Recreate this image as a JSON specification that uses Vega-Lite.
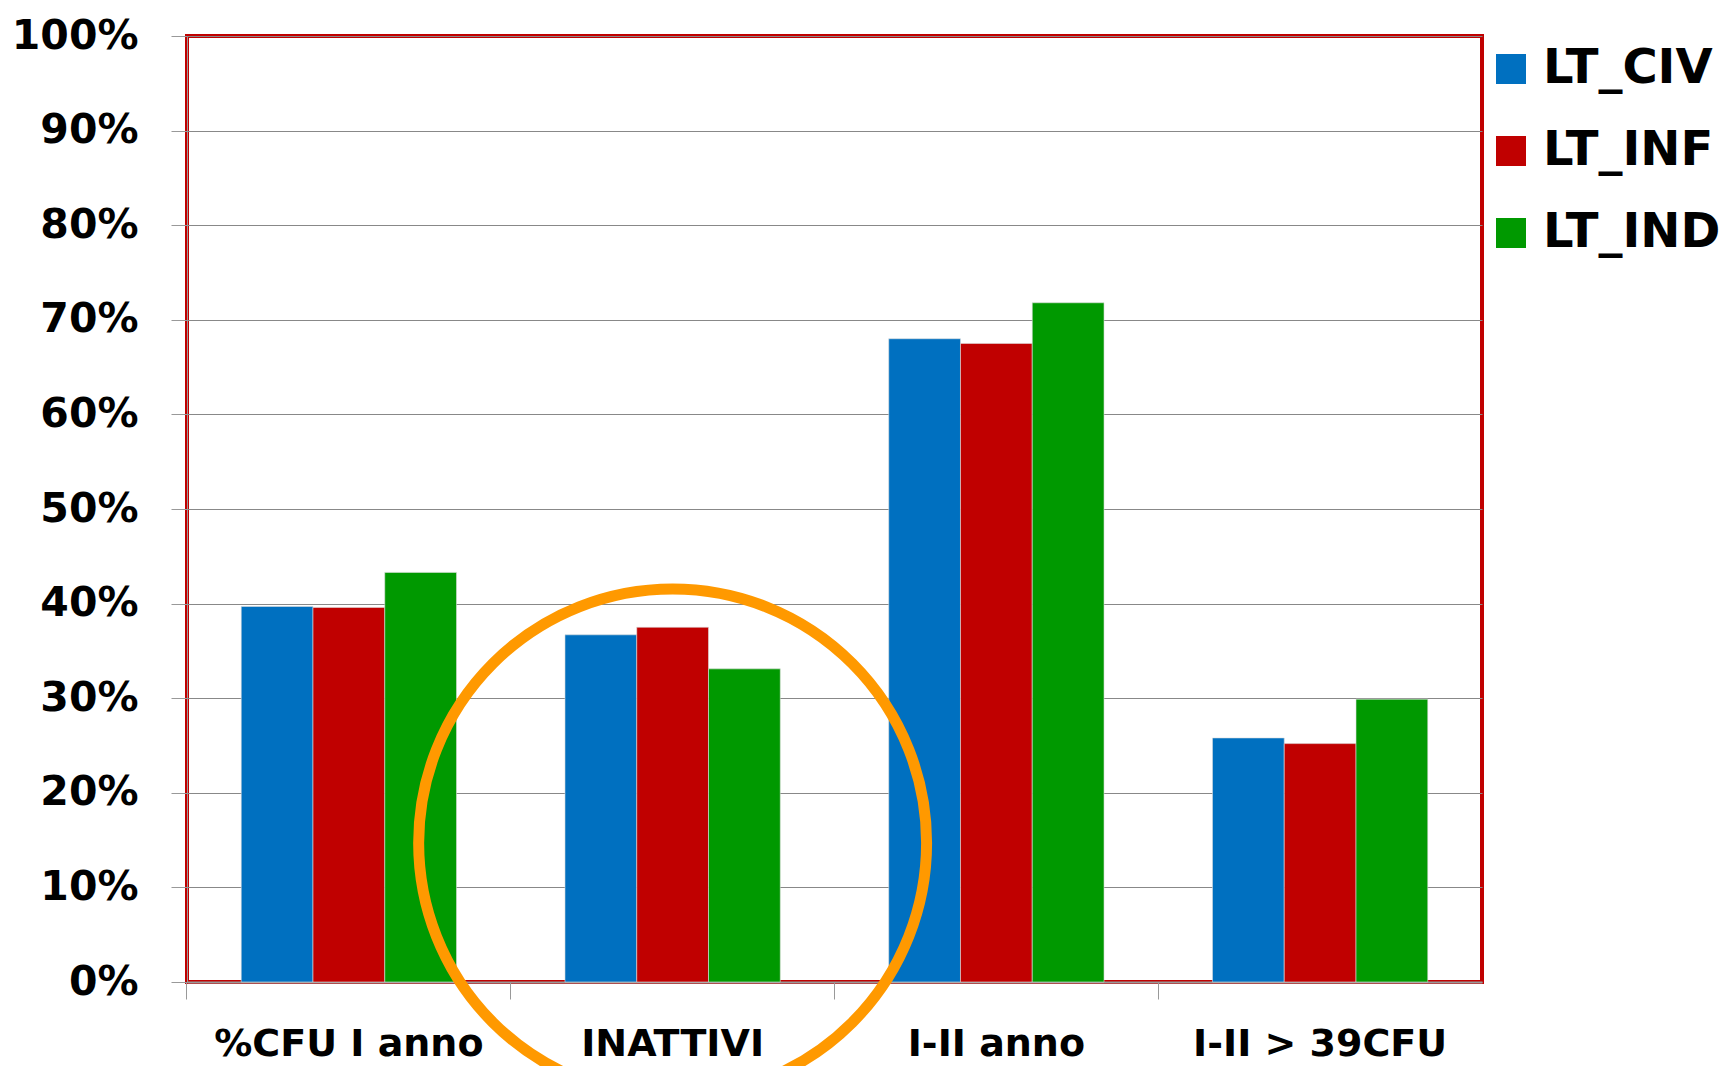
{
  "$schema": "https://vega.github.io/schema/vega-lite/v6.json",
  "autosize": {"type": "none"},
  "padding": {"left": 187, "top": 36, "right": 249, "bottom": 84},
  "width": 1295,
  "height": 946,
  "background": "white",
  "config": {
    "view": {"stroke": "#C00000", "strokeWidth": 4},
    "font": "DejaVu Sans"
  },
  "layer": [
    {
      "data": {
        "values": [
          {"cat": "%CFU I anno", "serie": "LT_CIV", "v": 0.397},
          {"cat": "%CFU I anno", "serie": "LT_INF", "v": 0.396},
          {"cat": "%CFU I anno", "serie": "LT_IND", "v": 0.433},
          {"cat": "INATTIVI", "serie": "LT_CIV", "v": 0.367},
          {"cat": "INATTIVI", "serie": "LT_INF", "v": 0.375},
          {"cat": "INATTIVI", "serie": "LT_IND", "v": 0.331},
          {"cat": "I-II anno", "serie": "LT_CIV", "v": 0.680},
          {"cat": "I-II anno", "serie": "LT_INF", "v": 0.675},
          {"cat": "I-II anno", "serie": "LT_IND", "v": 0.718},
          {"cat": "I-II > 39CFU", "serie": "LT_CIV", "v": 0.258},
          {"cat": "I-II > 39CFU", "serie": "LT_INF", "v": 0.252},
          {"cat": "I-II > 39CFU", "serie": "LT_IND", "v": 0.299}
        ]
      },
      "mark": {"type": "bar", "stroke": "#dddddd", "strokeWidth": 0.6},
      "encoding": {
        "x": {
          "field": "cat", "type": "nominal", "sort": null,
          "scale": {"paddingInner": 0.335, "paddingOuter": 0.1675},
          "axis": {
            "title": null, "labelAngle": 0, "bandPosition": -0.252, "labelLimit": 0,
            "labelFont": "DejaVu Sans", "labelFontWeight": "bold", "labelFontSize": 38,
            "labelColor": "black", "labelPadding": 26, "tickSize": 17,
            "tickColor": "#999999", "domainColor": "#999999", "domainWidth": 2,
            "labelBaseline": "top"
          }
        },
        "xOffset": {"field": "serie", "type": "nominal", "sort": ["LT_CIV", "LT_INF", "LT_IND"], "scale": {"paddingInner": 0, "paddingOuter": 0}},
        "y": {
          "field": "v", "type": "quantitative",
          "scale": {"domain": [0, 1]},
          "axis": {
            "title": null, "format": ".0%", "values": [0, 0.1, 0.2, 0.3, 0.4, 0.5, 0.6, 0.7, 0.8, 0.9, 1],
            "labelFont": "DejaVu Sans", "labelFontWeight": "bold", "labelFontSize": 41,
            "labelColor": "black", "labelPadding": 33, "tickSize": 16,
            "tickColor": "#999999", "domainColor": "#999999",
            "gridColor": "#888888", "gridWidth": 1
          }
        },
        "color": {
          "field": "serie", "type": "nominal",
          "scale": {"domain": ["LT_CIV", "LT_INF", "LT_IND"], "range": ["#0070C0", "#C00000", "#009900"]},
          "legend": {
            "title": null, "orient": "none", "legendX": 1300, "legendY": 9,
            "symbolType": "square", "symbolSize": 900, "symbolStrokeWidth": 0,
            "labelFont": "DejaVu Sans", "labelFontWeight": "bold", "labelFontSize": 48,
            "labelColor": "black", "labelOffset": 8, "rowPadding": 34, "labelLimit": 0
          }
        }
      }
    },
    {
      "data": {"values": [{"cat": "INATTIVI", "v": 0.147}]},
      "mark": {"type": "point", "shape": "circle", "filled": false, "stroke": "#FF9900", "strokeWidth": 11, "size": 258000, "opacity": 1},
      "encoding": {
        "x": {"field": "cat", "type": "nominal", "sort": null},
        "y": {"field": "v", "type": "quantitative"}
      }
    }
  ]
}
